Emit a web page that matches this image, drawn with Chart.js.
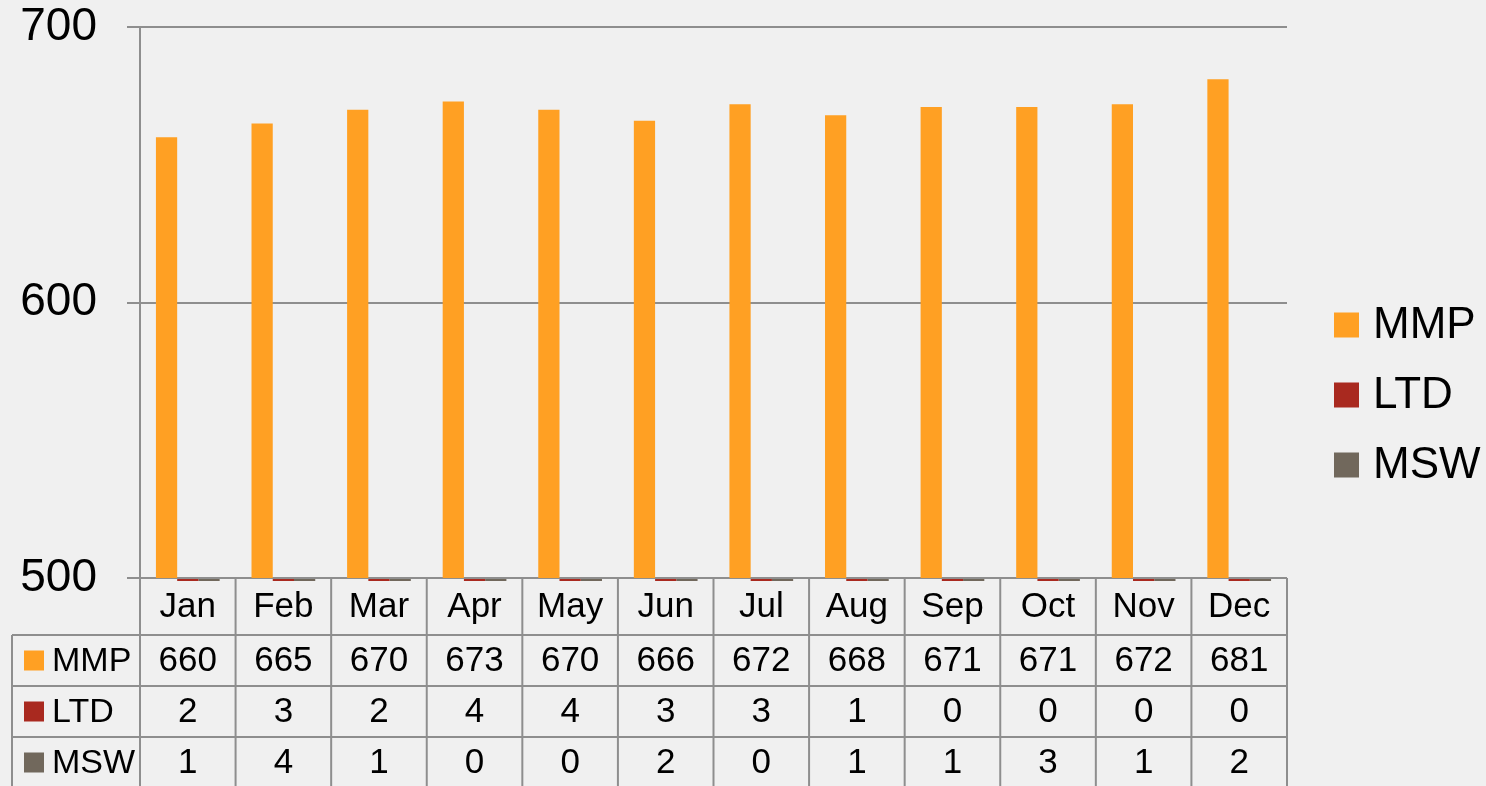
<!DOCTYPE html>
<html>
<head>
<meta charset="utf-8">
<script src="https://cdn.jsdelivr.net/npm/chart.js@4.4.0/dist/chart.umd.min.js"></script>
<style>
  html, body { margin: 0; padding: 0; background: #f0f0f0; }
  #wrap { width: 1486px; height: 786px; }
</style>
</head>
<body>
<div id="wrap"><canvas id="chart" width="1486" height="786"></canvas></div>
<script>
// data
const months = ['Jan', 'Feb', 'Mar', 'Apr', 'May', 'Jun', 'Jul', 'Aug', 'Sep', 'Oct', 'Nov', 'Dec'];
const mmp = [660, 665, 670, 673, 670, 666, 672, 668, 671, 671, 672, 681];
const ltd = [2, 3, 2, 4, 4, 3, 3, 1, 0, 0, 0, 0];
const msw = [1, 4, 1, 0, 0, 2, 0, 1, 1, 3, 1, 2];
const yTicks = [500, 600, 700];
const seriesNames = ['MMP', 'LTD', 'MSW'];
const seriesColors = ['#ffa023', '#a9291f', '#71685c'];

const FONT = "'Liberation Sans', Arial, sans-serif";
const LINE = '#8e8e8e';
const yMin = yTicks[0];
const yMax = yTicks[yTicks.length - 1];

// legend on the right, drawn by hand so the plot area stays where it is
const legendPlugin = {
  id: 'sideLegend',
  afterDraw(chart) {
    const ctx = chart.ctx;
    ctx.save();
    ctx.font = '44px ' + FONT;
    ctx.textBaseline = 'middle';
    ctx.textAlign = 'left';
    seriesNames.forEach((name, i) => {
      const cy = 325 + i * 70;
      ctx.fillStyle = seriesColors[i];
      ctx.fillRect(1334, cy - 12.5, 25, 25);
      ctx.fillStyle = '#000';
      ctx.fillText(name, 1373, cy + 1);
    });
    ctx.restore();
  }
};

// data table under the x axis
const tablePlugin = {
  id: 'dataTable',
  afterDraw(chart) {
    const { ctx, chartArea: { left, right, bottom }, scales: { x } } = chart;
    const headH = 57;
    const rowH = 51;
    const tableLeft = 12;
    const rows = [mmp, ltd, msw];
    const n = months.length;
    const end = bottom + headH + rows.length * rowH + 2;

    const edges = [];
    for (let i = 0; i <= n; i++) {
      if (i === 0) edges.push(left);
      else if (i === n) edges.push(right);
      else edges.push((x.getPixelForValue(i - 1) + x.getPixelForValue(i)) / 2);
    }

    ctx.save();
    ctx.strokeStyle = LINE;
    ctx.lineWidth = 2;
    ctx.beginPath();
    edges.forEach(ex => {
      ctx.moveTo(ex, bottom);
      ctx.lineTo(ex, end);
    });
    // left border of the key column
    ctx.moveTo(tableLeft, bottom + headH);
    ctx.lineTo(tableLeft, end);
    for (let r = 0; r < rows.length; r++) {
      const ry = bottom + headH + r * rowH;
      ctx.moveTo(tableLeft, ry);
      ctx.lineTo(right, ry);
    }
    ctx.stroke();

    ctx.fillStyle = '#000';
    ctx.font = '35px ' + FONT;
    ctx.textAlign = 'center';
    ctx.textBaseline = 'middle';
    months.forEach((m, i) => {
      ctx.fillText(m, x.getPixelForValue(i), bottom + headH / 2 + 1);
    });
    rows.forEach((vals, r) => {
      const cy = bottom + headH + r * rowH + rowH / 2 + 1;
      vals.forEach((v, i) => {
        ctx.fillText(String(v), x.getPixelForValue(i), cy);
      });
    });

    ctx.font = '34px ' + FONT;
    ctx.textAlign = 'left';
    seriesNames.forEach((name, r) => {
      const cy = bottom + headH + r * rowH + rowH / 2;
      ctx.fillStyle = seriesColors[r];
      ctx.fillRect(24, cy - 10, 20, 20);
      ctx.fillStyle = '#000';
      ctx.fillText(name, 52, cy + 1);
    });
    ctx.restore();
  }
};

// the small series sit below the axis minimum; let a sliver of them show under it
const lowClip = { left: 0, top: 0, right: 0, bottom: 3 };

new Chart(document.getElementById('chart'), {
  type: 'bar',
  data: {
    labels: months,
    datasets: [
      { label: seriesNames[0], data: mmp, backgroundColor: seriesColors[0] },
      { label: seriesNames[1], data: ltd, backgroundColor: seriesColors[1], base: yMin, clip: lowClip },
      { label: seriesNames[2], data: msw, backgroundColor: seriesColors[2], base: yMin, clip: lowClip }
    ]
  },
  options: {
    responsive: false,
    animation: false,
    layout: {
      padding: { top: 27, right: 199, bottom: 208, left: 0 }
    },
    datasets: {
      bar: {
        categoryPercentage: 3 / 4.5, // gap width 150%
        barPercentage: 1
      }
    },
    plugins: {
      legend: { display: false },
      tooltip: { enabled: false }
    },
    scales: {
      x: {
        display: false
      },
      y: {
        min: yMin,
        max: yMax,
        afterBuildTicks: scale => {
          scale.ticks = yTicks.map(v => ({ value: v }));
        },
        afterFit: scale => {
          scale.width = 140;
          scale.paddingTop = 0;
          scale.paddingBottom = 0;
        },
        border: { display: true, color: LINE, width: 2 },
        grid: { color: LINE, lineWidth: 2, tickLength: 13 },
        ticks: {
          color: '#000',
          padding: 30,
          font: { family: FONT, size: 46 }
        }
      }
    }
  },
  plugins: [tablePlugin, legendPlugin]
});
</script>
</body>
</html>
